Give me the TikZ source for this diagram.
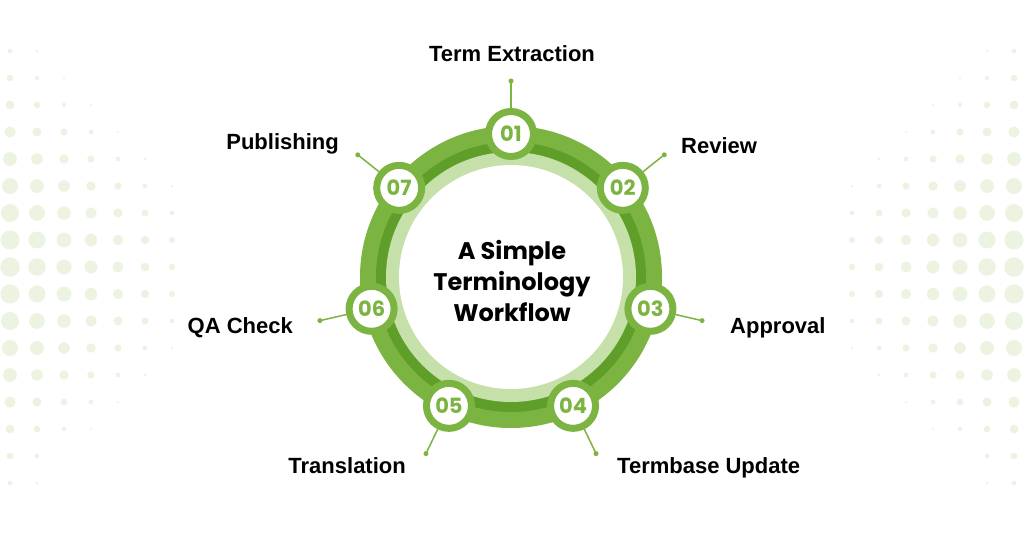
\documentclass[tikz,border=0pt]{standalone}
\usepackage{fontspec}
\setmainfont{Liberation Sans}
\newfontfamily\titlefont{Poppins}
\usetikzlibrary{calc}

\definecolor{ringgreen}{RGB}{124,180,66}
\definecolor{ringdark}{RGB}{95,158,40}
\definecolor{ringlight}{RGB}{198,224,170}
\definecolor{dotgreen}{RGB}{236,243,225}

\begin{document}
\begin{tikzpicture}[x=1pt,y=-1pt,
  stepnum/.style={circle,draw=ringgreen,line width=7pt,fill=white,minimum size=45pt,
    inner sep=0pt,text=ringgreen,font=\titlefont\bfseries\fontsize{21}{21}\selectfont},
  lbl/.style={font=\bfseries\fontsize{22}{26}\selectfont,inner sep=0pt},
  tick/.style={ringgreen,line width=1.5pt},
  tip/.style={circle,fill=ringgreen,inner sep=0pt,minimum size=5pt}]
\useasboundingbox (0,0) rectangle (1024,536);
\fill[white] (0,0) rectangle (1024,536);

% halftone dots
\foreach \c in {0,...,6}
  \foreach \k in {0,...,16}{
    \pgfmathsetmacro{\r}{9.8*exp(-(\k-8)*(\k-8)/45)-1.1*\c}
    \ifdim\r pt>0.4pt
      \fill[dotgreen] (10+27*\c,51+27*\k) circle (\r);
      \fill[dotgreen] (1014-27*\c,51+27*\k) circle (\r);
    \fi
  }

% ring
\coordinate (c) at (511,277);
\fill[ringgreen] (c) circle (151);
\fill[ringdark] (c) circle (135);
\fill[ringlight] (c) circle (125);
\fill[white] (c) circle (112);

\node[font=\titlefont\bfseries\fontsize{24}{31}\selectfont,align=center] (title) at (512,281)
  {A Simple\\Terminology\\Workflow};

% steps
\foreach \i [evaluate=\i as \a using 90-360/7*(\i-1)] in {1,...,7}{
  \coordinate (d\i) at ($(c)+({196*cos(\a)},{-196*sin(\a)})$);
  \node[stepnum] (s\i) at ($(c)+({143*cos(\a)},{-143*sin(\a)})$) {0\i};
  \draw[tick] (s\i) -- (d\i);
  \node[tip] (t\i) at (d\i) {};
}

\node[lbl,anchor=base] (l1) at (512,61) {Term Extraction};
\node[lbl,anchor=base west] (l2) at (681,153) {Review};
\node[lbl,anchor=base west] (l3) at (730,333) {Approval};
\node[lbl,anchor=base west] (l4) at (617,473) {Termbase Update};
\node[lbl,anchor=base east] (l5) at (406,473) {Translation};
\node[lbl,anchor=base east] (l6) at (293,333) {QA Check};
\node[lbl,anchor=base east] (l7) at (339,149) {Publishing};
\end{tikzpicture}
\end{document}
